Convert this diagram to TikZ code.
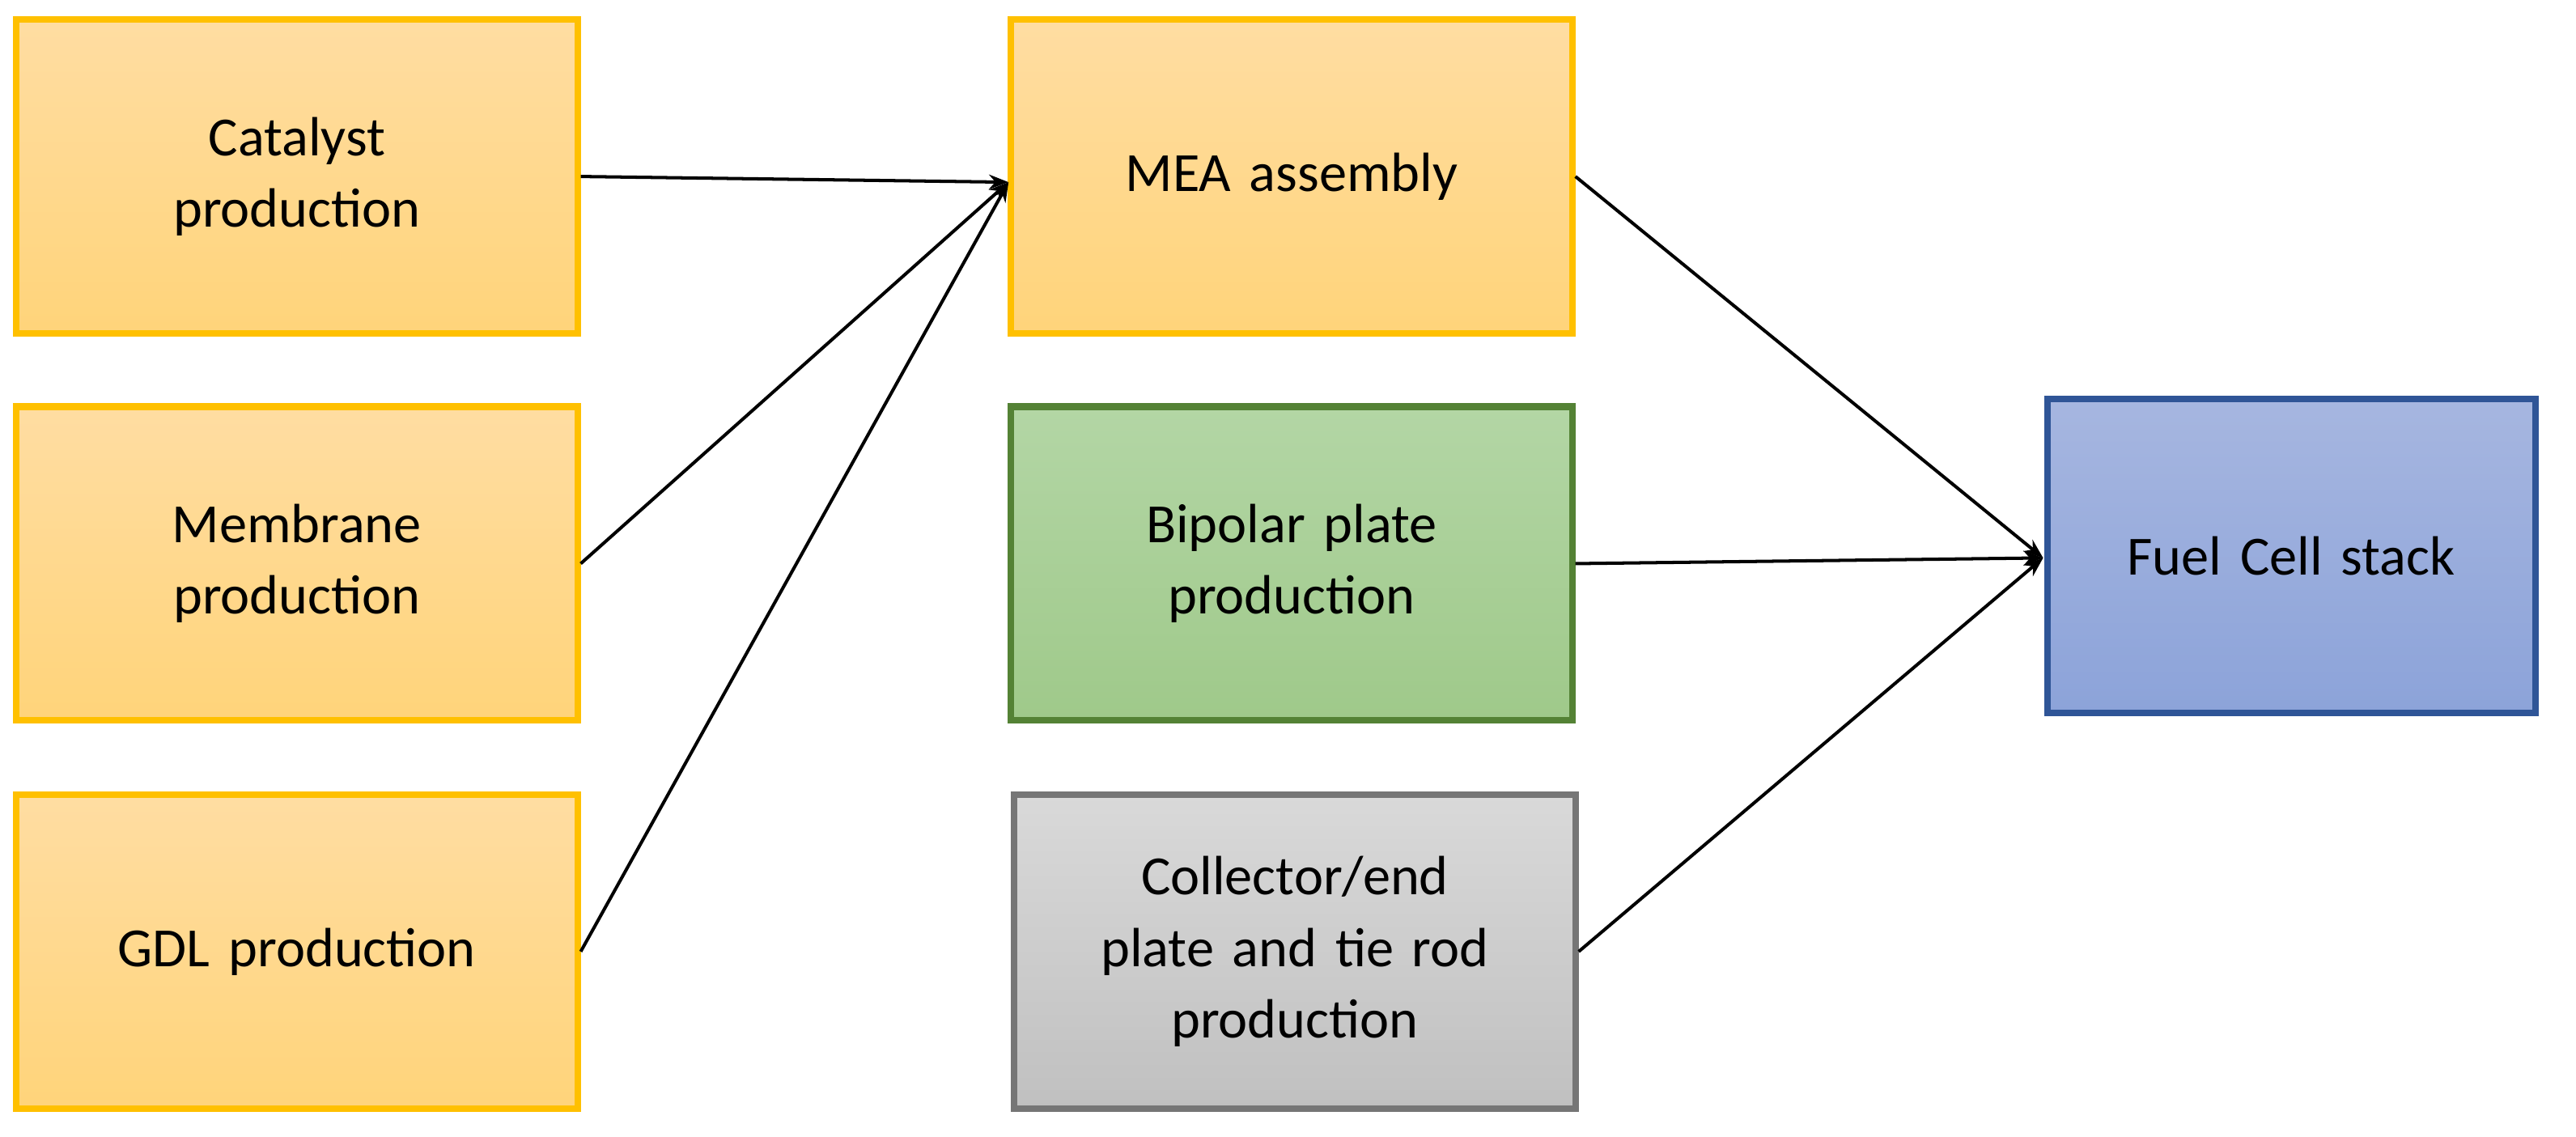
\documentclass[tikz,border=0pt]{standalone}
\usepackage{fontspec}
\setmainfont{Carlito}
\usetikzlibrary{arrows.meta}
\definecolor{orT}{HTML}{FFDDA2}\definecolor{orB}{HTML}{FFD47A}\definecolor{orL}{HTML}{FFC000}
\definecolor{grT}{HTML}{B3D6A5}\definecolor{grB}{HTML}{9FC98A}\definecolor{grL}{HTML}{548235}
\definecolor{gyT}{HTML}{D9D9D9}\definecolor{gyB}{HTML}{C0C0C0}\definecolor{gyL}{HTML}{767676}
\definecolor{blT}{HTML}{A6B6E0}\definecolor{blB}{HTML}{8CA3D9}\definecolor{blL}{HTML}{2F5597}
\begin{document}
\begin{tikzpicture}[x=1pt,y=-1pt,
 box/.style={draw,line width=4pt,minimum width=345pt,minimum height=193pt,align=center,
   font=\fontsize{34}{44}\selectfont,text width=330pt},
 orange/.style={box,draw=orL,top color=orT,bottom color=orB},
 green/.style={box,draw=grL,top color=grT,bottom color=grB},
 gray/.style={box,draw=gyL,top color=gyT,bottom color=gyB},
 blue/.style={box,draw=blL,top color=blT,bottom color=blB,minimum width=300pt,text width=290pt},
 arr/.style={line width=2pt,-{Stealth[length=12pt,width=9pt]}}]
\useasboundingbox (0,0) rectangle (1583.6,699);
\node[orange] (cat) at (182.5,108.5) {Catalyst\\production};
\node[orange] (mem) at (182.5,346.5) {Membrane\\production};
\node[orange] (gdl) at (182.5,585) {GDL production};
\node[orange] (mea) at (794,108.5) {MEA assembly};
\node[green] (bip) at (794,346.5) {Bipolar plate\\production};
\node[gray] (col) at (796,585) {Collector/end\\plate and tie rod\\production};
\node[blue] (fcs) at (1408.5,342) {Fuel Cell stack};
\coordinate (meaIn) at (620,112);
\coordinate (fcsIn) at (1256,343);
\draw[arr] (cat.east) -- (meaIn);
\draw[arr] (mem.east) -- (meaIn);
\draw[arr] (gdl.east) -- (meaIn);
\draw[arr] (mea.east) -- (fcsIn);
\draw[arr] (bip.east) -- (fcsIn);
\draw[arr] (col.east) -- (fcsIn);
\end{tikzpicture}
\end{document}
